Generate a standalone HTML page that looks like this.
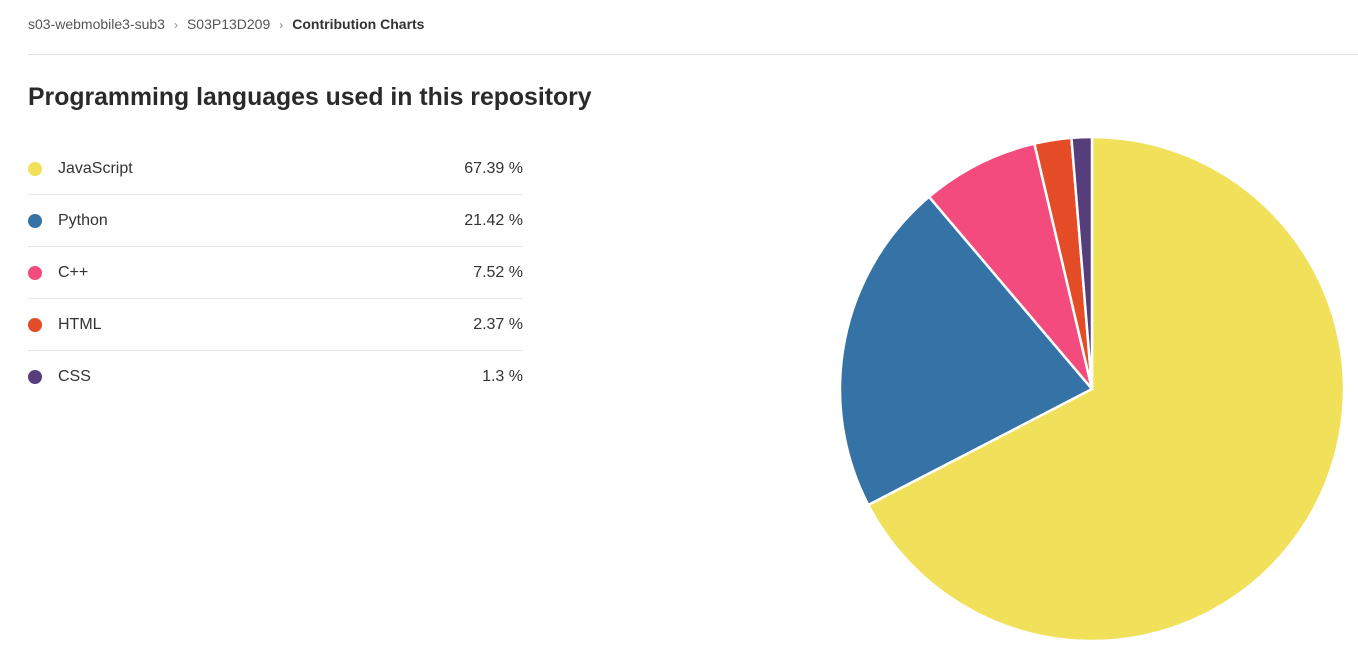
<!DOCTYPE html>
<html><head><meta charset="utf-8"><style>
body{margin:0;width:1358px;height:651px;background:#fff;font-family:"Liberation Sans",sans-serif;color:#333;position:relative;overflow:hidden}
.bc{position:absolute;left:28px;top:16px;font-size:14px;color:#555;white-space:nowrap}
.bc .sep{color:#888;margin:0 9px;font-size:12px}
.bc b{color:#333;font-weight:600}
.hr{position:absolute;left:28px;right:0;top:54px;border-top:1px solid #e1e1e1}
h1{position:absolute;left:28px;top:84px;margin:0;font-size:24.8px;font-weight:600;color:#2a2a2a}
.list{position:absolute;left:28px;top:143px;width:495px}
.row{height:51px;border-bottom:1px solid #e6e6e6;position:relative;font-size:16px}
.row:last-child{border-bottom:none}
.dot{position:absolute;left:0;top:19px;width:14px;height:14px;border-radius:50%}
.lab{position:absolute;left:30px;top:17px}
.val{position:absolute;right:0;top:17px}
</style></head><body>
<div class="bc"><span>s03-webmobile3-sub3</span><span class="sep">›</span><span>S03P13D209</span><span class="sep">›</span><b>Contribution Charts</b></div>
<div class="hr"></div>
<h1>Programming languages used in this repository</h1>
<div class="list" id="list"></div>
<svg id="pie" width="1358" height="651" style="position:absolute;left:0;top:0"></svg>
<script>
const languages=["JavaScript","Python","C++","HTML","CSS"];
const percents=[67.39,21.42,7.52,2.37,1.3];
const colors=["#f1e05a","#3572a5","#f34b7d","#e34c26","#563d7c"];
const list=document.getElementById('list');
languages.forEach((l,i)=>{
 const r=document.createElement('div');r.className='row';
 
 
 r.innerHTML='<span class="dot" style="background:'+colors[i]+'"></span><span class="lab">'+l+'</span><span class="val">'+percents[i]+' %</span>';
 list.appendChild(r);
});
const svg=document.getElementById('pie');
const cx=1092,cy=389,R=252;
const total=percents.reduce((a,b)=>a+b,0);
let a0=0;
percents.forEach((p,i)=>{
 const a1=a0+p/total*2*Math.PI;
 const x0=cx+R*Math.sin(a0),y0=cy-R*Math.cos(a0),x1=cx+R*Math.sin(a1),y1=cy-R*Math.cos(a1);
 const large=(a1-a0)>Math.PI?1:0;
 const path=document.createElementNS('http://www.w3.org/2000/svg','path');
 path.setAttribute('d',`M${cx},${cy}L${x0},${y0}A${R},${R} 0 ${large} 1 ${x1},${y1}Z`);
 path.setAttribute('fill',colors[i]);path.setAttribute('stroke','#fff');path.setAttribute('stroke-width','2.5');
 
 
 svg.appendChild(path);
 a0=a1;
});
</script>
</body></html>
